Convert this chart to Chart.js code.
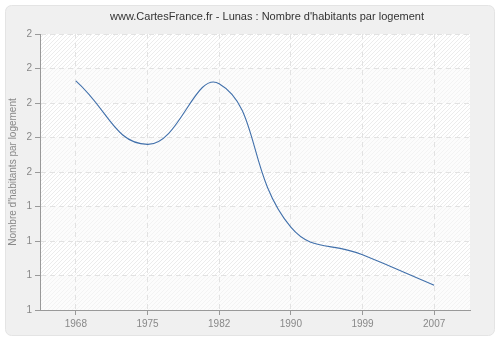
<!DOCTYPE html>
<html>
<head>
<meta charset="utf-8">
<script src="https://cdn.jsdelivr.net/npm/chart.js@4/dist/chart.umd.min.js"></script>
<style>
  html, body { margin: 0; padding: 0; background: #fff; }
  #wrap { width: 500px; height: 340px; }
</style>
</head>
<body>
<div id="wrap"><canvas id="myChart" width="500" height="340"></canvas></div>
<script>
const years = ['1968', '1975', '1982', '1990', '1999', '2007'];
const habitantsParLogement = [1.83, 1.60, 1.82, 1.30, 1.20, 1.09];
const yMin = 1;
const yMax = 2;
const yStep = 0.125;
const chartTitle = "www.CartesFrance.fr - Lunas : Nombre d'habitants par logement";
const yTitle = "Nombre d'habitants par logement";

// grey frame, hatched plot area (alternate bands paler) and the title
const backgroundPlugin = {
  id: 'background',
  beforeDraw(chart) {
    const { ctx, chartArea } = chart;
    ctx.save();
    ctx.fillStyle = '#ffffff';
    ctx.fillRect(0, 0, chart.width, chart.height);
    ctx.beginPath();
    ctx.roundRect(5.5, 5.5, 489, 330, 6);
    ctx.fillStyle = '#f0f0f0';
    ctx.fill();
    ctx.strokeStyle = '#e4e4e4';
    ctx.lineWidth = 1;
    ctx.stroke();

    const { left, top, right, bottom } = chartArea;
    ctx.fillStyle = '#ffffff';
    ctx.fillRect(left, top, right - left, bottom - top);
    ctx.beginPath();
    ctx.rect(left, top, right - left, bottom - top);
    ctx.clip();
    ctx.strokeStyle = '#ececec';
    ctx.lineWidth = 1;
    ctx.beginPath();
    for (let x = left - (bottom - top); x < right; x += 4) {
      ctx.moveTo(x, bottom);
      ctx.lineTo(x + (bottom - top), top);
    }
    ctx.stroke();

    const yScale = chart.scales.y;
    let i = 0;
    for (let v = yMax; v > yMin; v -= yStep) {
      if (i % 2 === 1) {
        const y1 = yScale.getPixelForValue(v);
        const y2 = yScale.getPixelForValue(v - yStep);
        ctx.fillStyle = 'rgba(250,250,250,0.5)';
        ctx.fillRect(left, y1, right - left, y2 - y1);
      }
      i++;
    }
    ctx.restore();

    ctx.save();
    ctx.fillStyle = '#333333';
    ctx.font = '11px "Liberation Sans", Arial, sans-serif';
    ctx.textAlign = 'center';
    ctx.textBaseline = 'middle';
    ctx.fillText(chartTitle, 267, 17);
    ctx.restore();
  },
};

const chart = new Chart(document.getElementById('myChart'), {
  type: 'line',
  data: {
    labels: years,
    datasets: [
      {
        label: yTitle,
        data: habitantsParLogement,
        borderColor: '#4170ab',
        borderWidth: 1.1,
        pointRadius: 0,
        tension: 0.45,
        fill: false,
      },
    ],
  },
  options: {
    responsive: false,
    animation: false,
    layout: {
      padding: { left: 0, right: 30, top: 34, bottom: 0 },
    },
    plugins: {
      legend: { display: false },
      title: { display: false },
      tooltip: { enabled: false },
    },
    scales: {
      x: {
        offset: true,
        afterFit(scale) { scale.height = 30; },
        grid: {
          color: '#e2e2e2',
          tickColor: '#999999',
          tickLength: 5,
        },
        border: { color: '#999999', dash: [5, 4] },
        ticks: {
          color: '#888888',
          padding: 3,
          font: { family: '"Liberation Sans", Arial, sans-serif', size: 10 },
        },
      },
      y: {
        min: yMin,
        max: yMax,
        afterFit(scale) { scale.width = 40; },
        grid: {
          color: '#e2e2e2',
          tickColor: '#999999',
          tickLength: 5,
        },
        border: { color: '#999999', dash: [5, 4] },
        ticks: {
          stepSize: yStep,
          color: '#888888',
          padding: 3,
          font: { family: '"Liberation Sans", Arial, sans-serif', size: 10 },
          callback: (v) => Math.round(v),
        },
        title: {
          display: true,
          text: yTitle,
          color: '#888888',
          padding: { top: 7, bottom: 0 },
          font: { family: '"Liberation Sans", Arial, sans-serif', size: 10 },
        },
      },
    },
  },
  plugins: [backgroundPlugin],
});
</script>
</body>
</html>
